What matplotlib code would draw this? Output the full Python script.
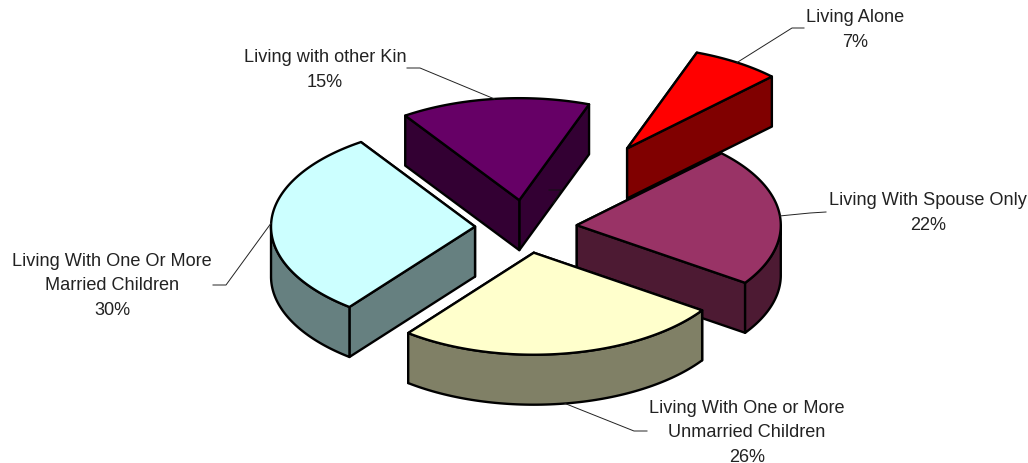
import numpy as np
import matplotlib
matplotlib.use('Agg')
import matplotlib.pyplot as plt
from matplotlib.patches import Polygon

plt.rcParams['font.family'] = ['Liberation Sans', 'DejaVu Sans']

# order as the pie goes round, clockwise from the start angle
categories = ['Living Alone', 'Living With Spouse Only',
              'Living With One or More\nUnmarried Children',
              'Living With One Or More\nMarried Children', 'Living with other Kin']
shares = [7, 22, 26, 30, 15]
explode = [0.92, 0.25, 0.25, 0.25, 0.27]
top_colors = ['#ff0000', '#993366', '#ffffcc', '#ccffff', '#660066']
side_colors = ['#800000', '#4d1a33', '#808066', '#668080', '#330033']

start_angle = 20
cx, cy = 526, 228.5
rx, ry = 204, 102
depth = 50

# label centre, then the elbow of the leader line
label_pos = [(855.5, 30), (928, 213), (747, 433), (112, 286), (325, 70)]
elbows = [[(804, 29), (792, 29)], [(826, 213), (810, 214)], [(647, 432), (634, 432)],
          [(213, 286), (226, 286)], [(407, 69), (420, 69)]]

fig = plt.figure(figsize=(10.28, 4.64), dpi=100)
ax = fig.add_axes([0, 0, 1, 1])
ax.set_xlim(0, 1028)
ax.set_ylim(464, 0)
ax.axis('off')


def rim(ox, oy, deg):
    # point on the top ellipse, angle clockwise from 12 o'clock
    t = np.radians(deg)
    return ox + rx * np.sin(t), oy - ry * np.cos(t)


edges = np.cumsum([0] + shares) * 3.6 + start_angle
slices = []
for i in range(len(shares)):
    a0, a1 = edges[i], edges[i + 1]
    mid = (a0 + a1) / 2
    ox = cx + explode[i] * rx * np.sin(np.radians(mid))
    oy = cy - explode[i] * ry * np.cos(np.radians(mid))
    slices.append((i, a0, a1, mid, ox, oy))


def draw_slice(s):
    i, a0, a1, mid, ox, oy = s
    kw = dict(ec='black', lw=1.7, joinstyle='round')
    # straight walls first, the one further back goes down first
    walls = sorted((a0, a1), key=lambda a: rim(ox, oy, a)[1])
    for a in walls:
        x, y = rim(ox, oy, a)
        ax.add_patch(Polygon([(ox, oy), (x, y), (x, y + depth), (ox, oy + depth)],
                             fc=side_colors[i], **kw))
    # rim wall only where it faces the viewer
    lo = max(a0, 90)
    hi = min(a1, 270)
    if lo < hi:
        xs, ys = rim(ox, oy, np.linspace(lo, hi, 80))
        pts = list(zip(xs, ys)) + list(zip(xs[::-1], ys[::-1] + depth))
        ax.add_patch(Polygon(pts, fc=side_colors[i], **kw))
    xs, ys = rim(ox, oy, np.linspace(a0, a1, 120))
    ax.add_patch(Polygon([(ox, oy)] + list(zip(xs, ys)), fc=top_colors[i], **kw))


# back to front: alone, other kin, married, spouse, unmarried
for k in [0, 4, 3, 1, 2]:
    draw_slice(slices[k])

# leader lines and labels
for i, a0, a1, mid, ox, oy in slices:
    x, y = rim(ox, oy, mid)
    if i == 2:
        y += depth
    px = [e[0] for e in elbows[i]] + [x]
    py = [e[1] for e in elbows[i]] + [y]
    ax.plot(px, py, color='#222222', lw=0.7, zorder=1 if i != 2 else 5)
    ax.text(label_pos[i][0], label_pos[i][1], '%s\n%d%%' % (categories[i], shares[i]),
            ha='center', va='center', fontsize=13.1, color='#222222', linespacing=1.58)

# small stray mark on the purple wall
ax.plot([549, 561, 553], [191, 191, 205], color='#111111', lw=0.7, zorder=6)

fig.savefig('out.png', dpi=100)
